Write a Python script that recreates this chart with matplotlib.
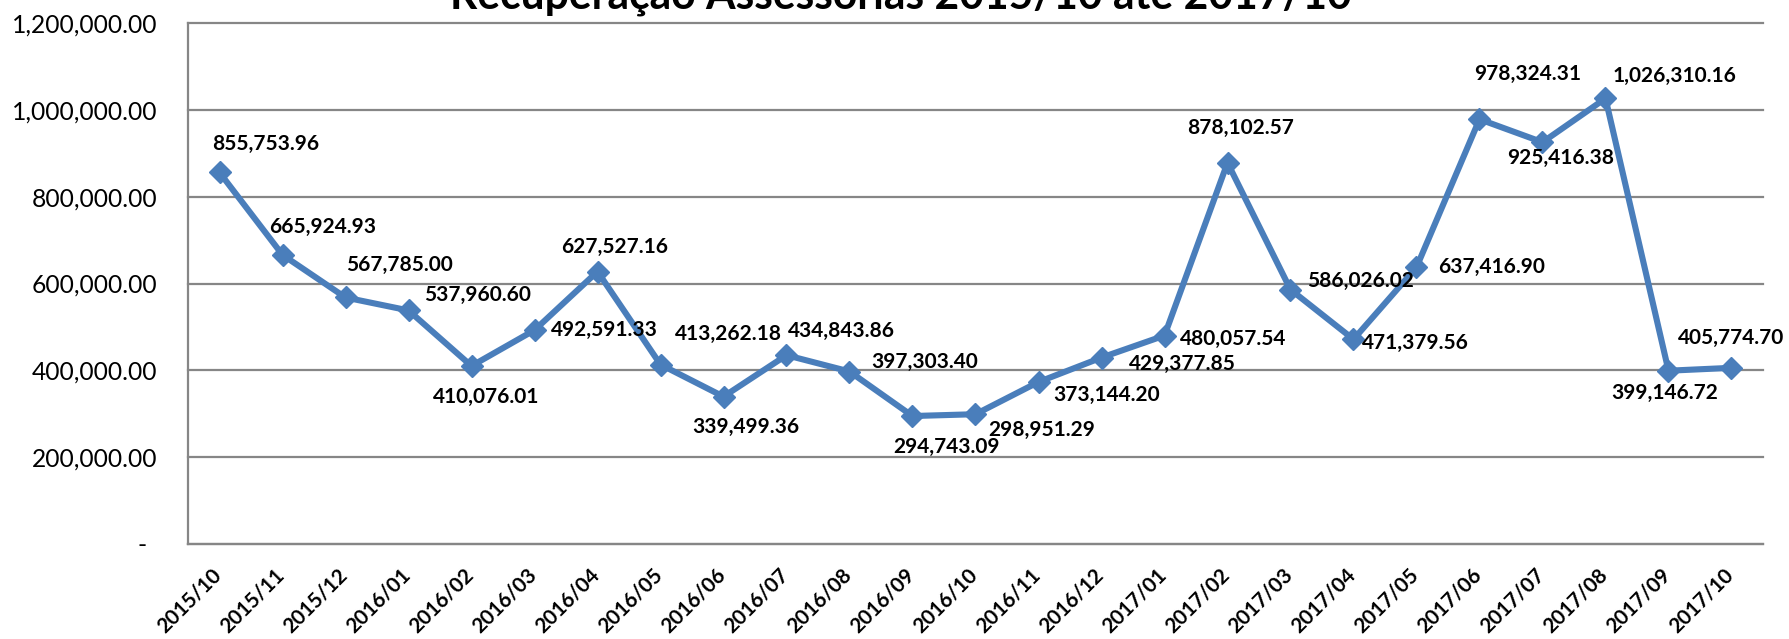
import matplotlib
matplotlib.use('Agg')
import matplotlib.pyplot as plt
import matplotlib.transforms as mtransforms

# ---------------- data ----------------
months = ['2015/10', '2015/11', '2015/12', '2016/01', '2016/02', '2016/03',
          '2016/04', '2016/05', '2016/06', '2016/07', '2016/08', '2016/09',
          '2016/10', '2016/11', '2016/12', '2017/01', '2017/02', '2017/03',
          '2017/04', '2017/05', '2017/06', '2017/07', '2017/08', '2017/09',
          '2017/10']
values = [855753.96, 665924.93, 567785.00, 537960.60, 410076.01, 492591.33,
          627527.16, 413262.18, 339499.36, 434843.86, 397303.40, 294743.09,
          298951.29, 373144.20, 429377.85, 480057.54, 878102.57, 586026.02,
          471379.56, 637416.90, 978324.31, 925416.38, 1026310.16, 399146.72,
          405774.70]
yticks = [0, 200000, 400000, 600000, 800000, 1000000, 1200000]
title = 'Recuperação Assessorias 2015/10 até 2017/10'

# ---------------- style ----------------
# data-label offsets in pixels (dx right, dy down) relative to each point
label_offsets = [(46, -28), (40, -28), (54, -33), (69, -15), (15, 31), (70, 0),
                 (17, -25), (68, -31), (22, 30), (55, -24), (75, -10), (34, 31),
                 (66, 16), (68, 13), (81, 6), (69, 3), (13, -35), (70, -9),
                 (62, 4), (75, 0), (48, -45), (18, 16), (69, -22), (-4, 22),
                 (0, -30)]
FONT = 'Lato'
LINE_COLOR = '#4A7EBB'
GRID_COLOR = '#868686'

W, H, DPI = 1789, 639, 100
fig = plt.figure(figsize=(W / DPI, H / DPI), dpi=DPI)
fig.patch.set_facecolor('white')

ax_left, ax_right, ax_top, ax_bottom = 188, 1763, 23, 544
ax = fig.add_axes([ax_left / W, 1 - ax_bottom / H,
                   (ax_right - ax_left) / W, (ax_bottom - ax_top) / H])

renderer = fig.canvas.get_renderer()


def fitted_size(s, target_px, weight):
    t = fig.text(0, 0, s, fontsize=20, fontweight=weight, family=FONT)
    w = t.get_window_extent(renderer).width
    t.remove()
    return 20 * target_px / w


fs_ytick = fitted_size('1,200,000.00', 146, 'normal')
fs_label = fitted_size('855,753.96', 107, 'bold')
fs_xtick = fitted_size('2015/10', 82, 'bold')
fs_title = fitted_size(title, 903, 'bold')

x = list(range(len(months)))
ax.plot(x, values, color=LINE_COLOR, lw=4.4, marker='D', ms=11,
        mfc=LINE_COLOR, mec=LINE_COLOR, zorder=3, clip_on=False)

ax.set_xlim(-0.5, len(months) - 0.5)
ax.set_ylim(0, 1200000)

# grid & spines
ax.set_yticks(yticks)
ax.yaxis.grid(True, color=GRID_COLOR, lw=1.6)
ax.set_axisbelow(True)
for gl in ax.get_ygridlines():
    gl.set_clip_on(False)
for side in ('top', 'right'):
    ax.spines[side].set_visible(False)
for side in ('left', 'bottom'):
    ax.spines[side].set_color(GRID_COLOR)
    ax.spines[side].set_linewidth(1.6)

# y tick labels
ylabels = ['-' if v == 0 else f'{v:,.2f}' for v in yticks]
ax.set_yticklabels(ylabels, fontsize=fs_ytick, family=FONT)
ax.tick_params(axis='y', length=0, pad=31 * 72 / DPI)
for lab in ax.get_yticklabels():
    if lab.get_text() == '-':
        lab.set_transform(lab.get_transform() +
                          mtransforms.ScaledTranslation(-10 / DPI, 0, fig.dpi_scale_trans))

# x tick labels
ax.set_xticks(x)
ax.set_xticklabels(months, rotation=45, ha='right', va='top',
                   fontsize=fs_xtick, fontweight='bold', family=FONT)
ax.tick_params(axis='x', length=0, pad=21 * 72 / DPI)
for lab in ax.get_xticklabels():
    lab.set_transform(lab.get_transform() +
                      mtransforms.ScaledTranslation(6 / DPI, 0, fig.dpi_scale_trans))

# data labels
for xi, v, (dx, dy) in zip(x, values, label_offsets):
    ax.annotate(f'{v:,.2f}', (xi, v), xytext=(dx, -dy), textcoords='offset pixels',
                ha='center', va='center', fontsize=fs_label, fontweight='bold',
                family=FONT, color='black', annotation_clip=False, zorder=4)

# title (partially cut at top as in the reference)
fig.text(901 / W, 1 - 9 / H, title, ha='center', va='baseline',
         fontsize=fs_title, fontweight='bold', family=FONT)

fig.savefig('out.png', dpi=DPI, facecolor='white')
